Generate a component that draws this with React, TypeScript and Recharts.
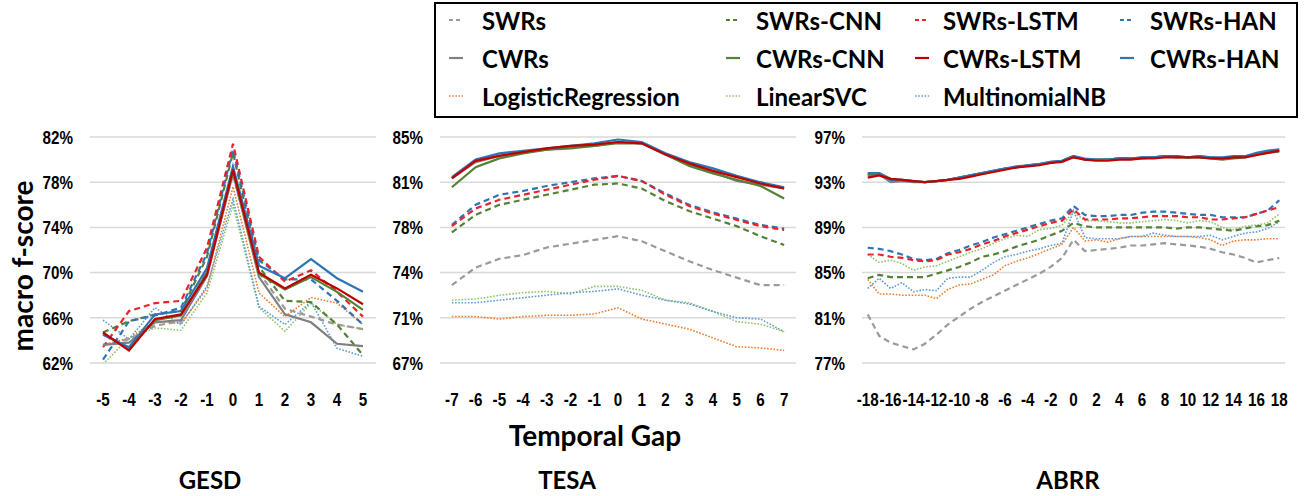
import React from 'react';
import { LineChart, Line, XAxis, YAxis, CartesianGrid } from 'recharts';

// ---------- categories ----------
const GESD_X = [-5, -4, -3, -2, -1, 0, 1, 2, 3, 4, 5];
const TESA_X = [-7, -6, -5, -4, -3, -2, -1, 0, 1, 2, 3, 4, 5, 6, 7];
const ABRR_X = [
  -18, -17, -16, -15, -14, -13, -12, -11, -10, -9, -8, -7, -6, -5, -4, -3, -2, -1, 0,
  1, 2, 3, 4, 5, 6, 7, 8, 9, 10, 11, 12, 13, 14, 15, 16, 17, 18,
];
const GESD_XTICKS = GESD_X;
const TESA_XTICKS = TESA_X;
const ABRR_XTICKS = [-18, -16, -14, -12, -10, -8, -6, -4, -2, 0, 2, 4, 6, 8, 10, 12, 14, 16, 18];

// ---------- y ticks ----------
const GESD_YTICKS = [62, 66, 70, 74, 78, 82];
const TESA_YTICKS = [67, 70.6, 74.2, 77.8, 81.4, 85];
const ABRR_YTICKS = [77, 81, 85, 89, 93, 97];

// ---------- series names (legend order, row by row) ----------
const LEGEND_ROWS = [
  ['SWRs', 'SWRs-CNN', 'SWRs-LSTM', 'SWRs-HAN'],
  ['CWRs', 'CWRs-CNN', 'CWRs-LSTM', 'CWRs-HAN'],
  ['LogisticRegression', 'LinearSVC', 'MultinomialNB'],
];
const DRAW_ORDER = [
  'LogisticRegression', 'LinearSVC', 'MultinomialNB',
  'SWRs', 'SWRs-CNN', 'SWRs-HAN', 'SWRs-LSTM',
  'CWRs', 'CWRs-CNN', 'CWRs-HAN', 'CWRs-LSTM',
];

// ---------- GESD values (macro f-score, %) ----------
const GESD_VALUES: Record<string, number[]> = {
  'SWRs': [63.6, 64.1, 65.3, 65.7, 70.3, 78.7, 70.0, 66.8, 66.1, 65.4, 65.0],
  'CWRs': [63.6, 63.8, 65.6, 65.8, 69.7, 78.8, 69.6, 66.3, 65.6, 63.7, 63.5],
  'LogisticRegression': [63.6, 64.2, 65.7, 65.5, 68.6, 77.6, 68.2, 66.1, 67.8, 67.3, 65.4],
  'SWRs-CNN': [64.7, 65.7, 66.3, 66.6, 71.4, 80.6, 70.5, 67.5, 67.4, 65.4, 62.7],
  'CWRs-CNN': [64.6, 63.3, 65.8, 66.2, 70.0, 79.0, 69.9, 68.5, 69.6, 68.3, 66.7],
  'LinearSVC': [61.9, 64.2, 65.1, 64.9, 68.2, 76.0, 66.9, 64.8, 67.3, 65.4, 65.0],
  'SWRs-LSTM': [63.4, 66.6, 67.3, 67.5, 72.2, 81.4, 71.4, 69.2, 70.2, 68.3, 66.1],
  'CWRs-LSTM': [64.7, 63.1, 65.9, 66.3, 69.8, 79.1, 70.0, 68.6, 69.8, 68.6, 67.2],
  'MultinomialNB': [65.8, 64.1, 66.9, 65.4, 68.8, 76.5, 67.0, 65.4, 67.4, 63.3, 62.6],
  'SWRs-HAN': [62.3, 65.7, 66.2, 66.9, 71.7, 80.9, 71.1, 69.4, 69.4, 67.5, 65.4],
  'CWRs-HAN': [64.5, 63.4, 66.3, 66.6, 70.4, 79.4, 70.6, 69.5, 71.2, 69.5, 68.3],
};

// ---------- TESA values ----------
const TESA_VALUES: Record<string, number[]> = {
  'SWRs': [73.2, 74.6, 75.3, 75.6, 76.2, 76.5, 76.8, 77.1, 76.7, 75.9, 75.1, 74.4, 73.8, 73.2, 73.2],
  'CWRs': [81.7, 83.0, 83.5, 83.8, 84.0, 84.2, 84.3, 84.6, 84.5, 83.6, 82.8, 82.2, 81.5, 81.2, 80.9],
  'LogisticRegression': [70.7, 70.7, 70.5, 70.7, 70.8, 70.8, 70.9, 71.4, 70.5, 70.1, 69.7, 69.0, 68.3, 68.2, 68.0],
  'SWRs-CNN': [77.4, 78.8, 79.6, 80.0, 80.4, 80.8, 81.2, 81.3, 80.9, 79.9, 79.1, 78.5, 77.9, 77.1, 76.4],
  'CWRs-CNN': [81.0, 82.6, 83.3, 83.7, 84.0, 84.1, 84.3, 84.5, 84.5, 83.6, 82.7, 82.1, 81.6, 81.1, 80.1],
  'LinearSVC': [72.0, 72.1, 72.4, 72.6, 72.7, 72.5, 73.1, 73.1, 72.8, 72.0, 71.8, 71.1, 70.3, 70.1, 69.5],
  'SWRs-LSTM': [77.9, 79.3, 80.0, 80.4, 80.8, 81.2, 81.6, 81.9, 81.5, 80.4, 79.5, 78.9, 78.4, 77.9, 77.6],
  'CWRs-LSTM': [81.7, 83.1, 83.5, 83.8, 84.1, 84.3, 84.4, 84.6, 84.5, 83.6, 82.9, 82.3, 81.8, 81.3, 80.9],
  'MultinomialNB': [71.8, 71.8, 72.0, 72.2, 72.4, 72.6, 72.7, 72.9, 72.4, 72.0, 71.7, 71.1, 70.6, 70.5, 69.5],
  'SWRs-HAN': [78.0, 79.6, 80.4, 80.7, 81.1, 81.4, 81.7, 81.9, 81.5, 80.5, 79.6, 79.0, 78.5, 78.0, 77.7],
  'CWRs-HAN': [81.8, 83.2, 83.7, 83.9, 84.1, 84.3, 84.5, 84.8, 84.6, 83.7, 83.0, 82.5, 81.9, 81.4, 81.0],
};

// ---------- ABRR values ----------
const ABRR_VALUES: Record<string, number[]> = {
  'SWRs': [81.3, 79.4, 78.8, 78.5, 78.2, 78.7, 79.5, 80.4, 81.1, 81.8, 82.4, 82.9, 83.4, 83.9, 84.4, 84.9, 85.5, 86.3, 87.9,
    86.9, 87.0, 87.1, 87.2, 87.4, 87.4, 87.5, 87.6, 87.5, 87.4, 87.3, 87.1, 86.8, 86.6, 86.3, 85.9, 86.1, 86.3],
  'CWRs': [93.6, 93.7, 93.0, 93.1, 93.0, 93.0, 93.1, 93.2, 93.4, 93.6, 93.8, 94.0, 94.2, 94.3, 94.5, 94.6, 94.8, 94.9, 95.3,
    95.0, 95.0, 95.0, 95.1, 95.1, 95.2, 95.2, 95.3, 95.3, 95.2, 95.3, 95.2, 95.1, 95.2, 95.3, 95.5, 95.7, 95.8],
  'LogisticRegression': [84.4, 83.1, 83.1, 83.0, 83.0, 83.0, 82.7, 83.5, 83.9, 84.0, 84.4, 84.8, 85.6, 86.0, 86.3, 86.7, 87.1, 87.5, 89.0,
    87.8, 87.9, 87.7, 88.0, 88.2, 88.2, 88.2, 88.2, 88.2, 88.2, 88.1, 87.9, 87.4, 87.8, 87.9, 87.9, 88.0, 88.0],
  'SWRs-CNN': [84.5, 84.8, 84.6, 84.6, 84.6, 84.6, 84.9, 85.2, 85.5, 85.9, 86.4, 86.6, 86.9, 87.3, 87.6, 87.9, 88.3, 88.7, 89.4,
    89.1, 89.0, 89.0, 89.0, 89.0, 89.0, 89.0, 89.0, 88.9, 89.0, 89.0, 88.9, 88.8, 88.7, 88.9, 89.1, 89.2, 89.6],
  'CWRs-CNN': [93.7, 93.8, 93.3, 93.2, 93.1, 93.0, 93.1, 93.2, 93.4, 93.6, 93.8, 94.0, 94.2, 94.3, 94.5, 94.6, 94.7, 94.9, 95.3,
    95.0, 95.0, 95.0, 95.1, 95.1, 95.1, 95.2, 95.3, 95.2, 95.2, 95.2, 95.1, 95.0, 95.1, 95.2, 95.5, 95.6, 95.7],
  'LinearSVC': [86.6, 85.9, 86.1, 85.8, 85.2, 85.5, 85.6, 86.0, 86.4, 86.8, 87.1, 87.6, 88.0, 88.3, 88.2, 88.8, 88.9, 89.2, 90.4,
    89.6, 89.6, 89.5, 89.4, 89.4, 89.5, 89.6, 89.7, 89.6, 89.4, 89.6, 89.5, 89.0, 88.8, 89.1, 89.2, 89.4, 90.2],
  'SWRs-LSTM': [86.6, 86.6, 86.4, 86.3, 86.1, 86.0, 86.1, 86.6, 86.8, 87.1, 87.5, 87.8, 88.2, 88.5, 88.8, 89.1, 89.4, 89.6, 90.6,
    89.7, 89.7, 89.7, 89.8, 89.8, 89.9, 90.0, 90.0, 90.0, 89.9, 89.9, 89.7, 89.7, 89.8, 89.9, 90.2, 90.5, 90.8],
  'CWRs-LSTM': [93.4, 93.6, 93.3, 93.2, 93.1, 93.0, 93.1, 93.2, 93.3, 93.5, 93.7, 93.9, 94.1, 94.3, 94.4, 94.5, 94.7, 94.8, 95.2,
    95.0, 94.9, 94.9, 95.0, 95.0, 95.1, 95.1, 95.2, 95.2, 95.2, 95.2, 95.1, 95.1, 95.2, 95.2, 95.4, 95.6, 95.8],
  'MultinomialNB': [83.6, 84.5, 83.6, 84.1, 83.3, 83.5, 83.4, 84.5, 84.6, 84.6, 85.2, 85.9, 86.4, 86.6, 86.9, 87.1, 87.4, 87.6, 90.5,
    88.1, 88.0, 88.0, 88.0, 88.2, 88.2, 88.5, 88.3, 88.2, 88.2, 88.2, 88.3, 87.9, 88.2, 88.5, 88.6, 88.9, 89.5],
  'SWRs-HAN': [87.2, 87.1, 86.9, 86.6, 86.2, 86.1, 86.2, 86.7, 87.0, 87.4, 87.7, 88.1, 88.4, 88.7, 89.0, 89.3, 89.6, 89.8, 90.9,
    90.1, 90.0, 90.0, 90.1, 90.1, 90.3, 90.4, 90.4, 90.3, 90.2, 90.1, 90.1, 89.9, 89.9, 89.9, 90.2, 90.5, 91.4],
  'CWRs-HAN': [93.8, 93.8, 93.2, 93.2, 93.1, 93.0, 93.1, 93.2, 93.4, 93.6, 93.8, 94.0, 94.2, 94.4, 94.5, 94.6, 94.8, 94.9, 95.3,
    95.1, 95.0, 95.0, 95.1, 95.1, 95.2, 95.2, 95.3, 95.3, 95.2, 95.3, 95.2, 95.2, 95.3, 95.3, 95.6, 95.8, 95.9],
};

// ---------- styles ----------
type Kind = 'dash' | 'solid' | 'dot';
const STYLE: Record<string, { color: string; kind: Kind }> = {
  'SWRs': { color: '#9a9a9a', kind: 'dash' },
  'CWRs': { color: '#808080', kind: 'solid' },
  'LogisticRegression': { color: '#ed7d31', kind: 'dot' },
  'SWRs-CNN': { color: '#548235', kind: 'dash' },
  'CWRs-CNN': { color: '#548235', kind: 'solid' },
  'LinearSVC': { color: '#8fc46a', kind: 'dot' },
  'SWRs-LSTM': { color: '#e8232a', kind: 'dash' },
  'CWRs-LSTM': { color: '#c00000', kind: 'solid' },
  'MultinomialNB': { color: '#5b9bd5', kind: 'dot' },
  'SWRs-HAN': { color: '#2e75b6', kind: 'dash' },
  'CWRs-HAN': { color: '#2e75b6', kind: 'solid' },
};
const dashOf = (k: Kind) => (k === 'dash' ? '6 4' : k === 'dot' ? '1.6 1.6' : undefined);
const widthOf = (k: Kind) => (k === 'dot' ? 1.6 : 2.2);

const TICK_FONT = "'Liberation Sans', Arial, sans-serif";
const TEXT_FONT = "Lato, 'Open Sans', sans-serif";
const TICK_SCALE_X = 0.8;

function buildRows(xs: number[], values: Record<string, number[]>) {
  return xs.map((x, i) => {
    const row: Record<string, number> = { x };
    DRAW_ORDER.forEach((k) => {
      row[k] = values[k][i];
    });
    return row;
  });
}

const fmtPct = (v: number) => `${Math.round(v)}%`;

function XTick(props: any) {
  const { x, y, payload } = props;
  return (
    <g transform={`translate(${x},${y})`}>
      <text
        transform={`scale(${TICK_SCALE_X},1)`}
        x={0}
        y={0}
        dy="0.71em"
        textAnchor="middle"
        fontFamily={TICK_FONT}
        fontWeight={700}
        fontSize={19}
        fill="#000"
      >
        {String(payload.value)}
      </text>
    </g>
  );
}

function YTick(props: any) {
  const { x, y, payload } = props;
  return (
    <g transform={`translate(${x},${y})`}>
      <text
        transform={`scale(${TICK_SCALE_X},1)`}
        x={0}
        y={0}
        dy="0.36em"
        textAnchor="end"
        fontFamily={TICK_FONT}
        fontWeight={700}
        fontSize={19}
        fill="#000"
      >
        {fmtPct(payload.value)}
      </text>
    </g>
  );
}

type PanelProps = {
  left: number;
  width: number;
  marginLeft: number;
  marginRight: number;
  xs: number[];
  xTicks: number[];
  values: Record<string, number[]>;
  yTicks: number[];
};

function Panel({ left, width, marginLeft, marginRight, xs, xTicks, values, yTicks }: PanelProps) {
  const data = buildRows(xs, values);
  return (
    <div style={{ position: 'absolute', left, top: 0 }}>
      <LineChart
        width={width}
        height={424}
        data={data}
        margin={{ top: 137, right: marginRight, bottom: 24, left: marginLeft }}
      >
        <CartesianGrid vertical={false} stroke="#d9d9d9" strokeWidth={1.5} />
        <XAxis
          dataKey="x"
          type="number"
          domain={[xs[0] - 0.5, xs[xs.length - 1] + 0.5]}
          allowDataOverflow
          ticks={xTicks}
          interval={0}
          height={37}
          tickLine={false}
          axisLine={false}
          tickSize={0}
          tickMargin={30}
          tick={<XTick />}
        />
        <YAxis
          type="number"
          domain={[yTicks[0], yTicks[yTicks.length - 1]]}
          allowDataOverflow
          ticks={yTicks}
          interval={0}
          width={60}
          tickLine={false}
          axisLine={false}
          tickSize={0}
          tickMargin={17}
          tick={<YTick />}
        />
        {DRAW_ORDER.map((k) => (
          <Line
            key={k}
            type="linear"
            dataKey={k}
            stroke={STYLE[k].color}
            strokeWidth={widthOf(STYLE[k].kind)}
            strokeDasharray={dashOf(STYLE[k].kind)}
            dot={false}
            activeDot={false}
            isAnimationActive={false}
          />
        ))}
      </LineChart>
    </div>
  );
}

const LEGEND_COL_MARK = [449, 726, 915, 1120];
const LEGEND_COL_TEXT = [482, 756, 943, 1150];
const LEGEND_ROW_Y = [20, 58, 96];

function Overlay() {
  return (
    <svg
      width={1304}
      height={496}
      style={{ position: 'absolute', left: 0, top: 0, pointerEvents: 'none' }}
    >
      <rect x={435} y={3} width={862} height={114} fill="#fff" stroke="#000" strokeWidth={2} />
      {LEGEND_ROWS.map((row, ri) =>
        row.map((name, ci) => {
          const st = STYLE[name];
          const y = LEGEND_ROW_Y[ri];
          return (
            <g key={name}>
              <line
                x1={LEGEND_COL_MARK[ci]}
                x2={LEGEND_COL_MARK[ci] + 14}
                y1={y}
                y2={y}
                stroke={st.color}
                strokeWidth={widthOf(st.kind)}
                strokeDasharray={st.kind === 'dash' ? '4 3' : dashOf(st.kind)}
              />
              <text
                x={LEGEND_COL_TEXT[ci]}
                y={y}
                dominantBaseline="central"
                fontFamily={TEXT_FONT}
                fontWeight={700}
                fontSize={24}
                fill="#000"
              >
                {name}
              </text>
            </g>
          );
        })
      )}
      <text
        transform="translate(33,266) rotate(-90)"
        textAnchor="middle"
        fontFamily={TEXT_FONT}
        fontWeight={700}
        fontSize={28}
        fill="#000"
      >
        macro f-score
      </text>
      <text x={595} y={446} textAnchor="middle" fontFamily={TEXT_FONT} fontWeight={700} fontSize={28} fill="#000">
        Temporal Gap
      </text>
      <text x={210} y={489} textAnchor="middle" fontFamily={TEXT_FONT} fontWeight={700} fontSize={24} fill="#000">
        GESD
      </text>
      <text x={567} y={489} textAnchor="middle" fontFamily={TEXT_FONT} fontWeight={700} fontSize={24} fill="#000">
        TESA
      </text>
      <text x={1068} y={489} textAnchor="middle" fontFamily={TEXT_FONT} fontWeight={700} fontSize={24} fill="#000">
        ABRR
      </text>
    </svg>
  );
}

export default function App() {
  return (
    <div style={{ position: 'absolute', left: 0, top: 0, width: 1304, height: 496, background: '#fff', overflow: 'hidden' }}>
      <Panel left={0} width={380} marginLeft={30} marginRight={4} xs={GESD_X} xTicks={GESD_XTICKS} values={GESD_VALUES} yTicks={GESD_YTICKS} />
      <Panel left={380} width={420} marginLeft={0} marginRight={4} xs={TESA_X} xTicks={TESA_XTICKS} values={TESA_VALUES} yTicks={TESA_YTICKS} />
      <Panel left={800} width={504} marginLeft={2} marginRight={19} xs={ABRR_X} xTicks={ABRR_XTICKS} values={ABRR_VALUES} yTicks={ABRR_YTICKS} />
      <Overlay />
    </div>
  );
}
